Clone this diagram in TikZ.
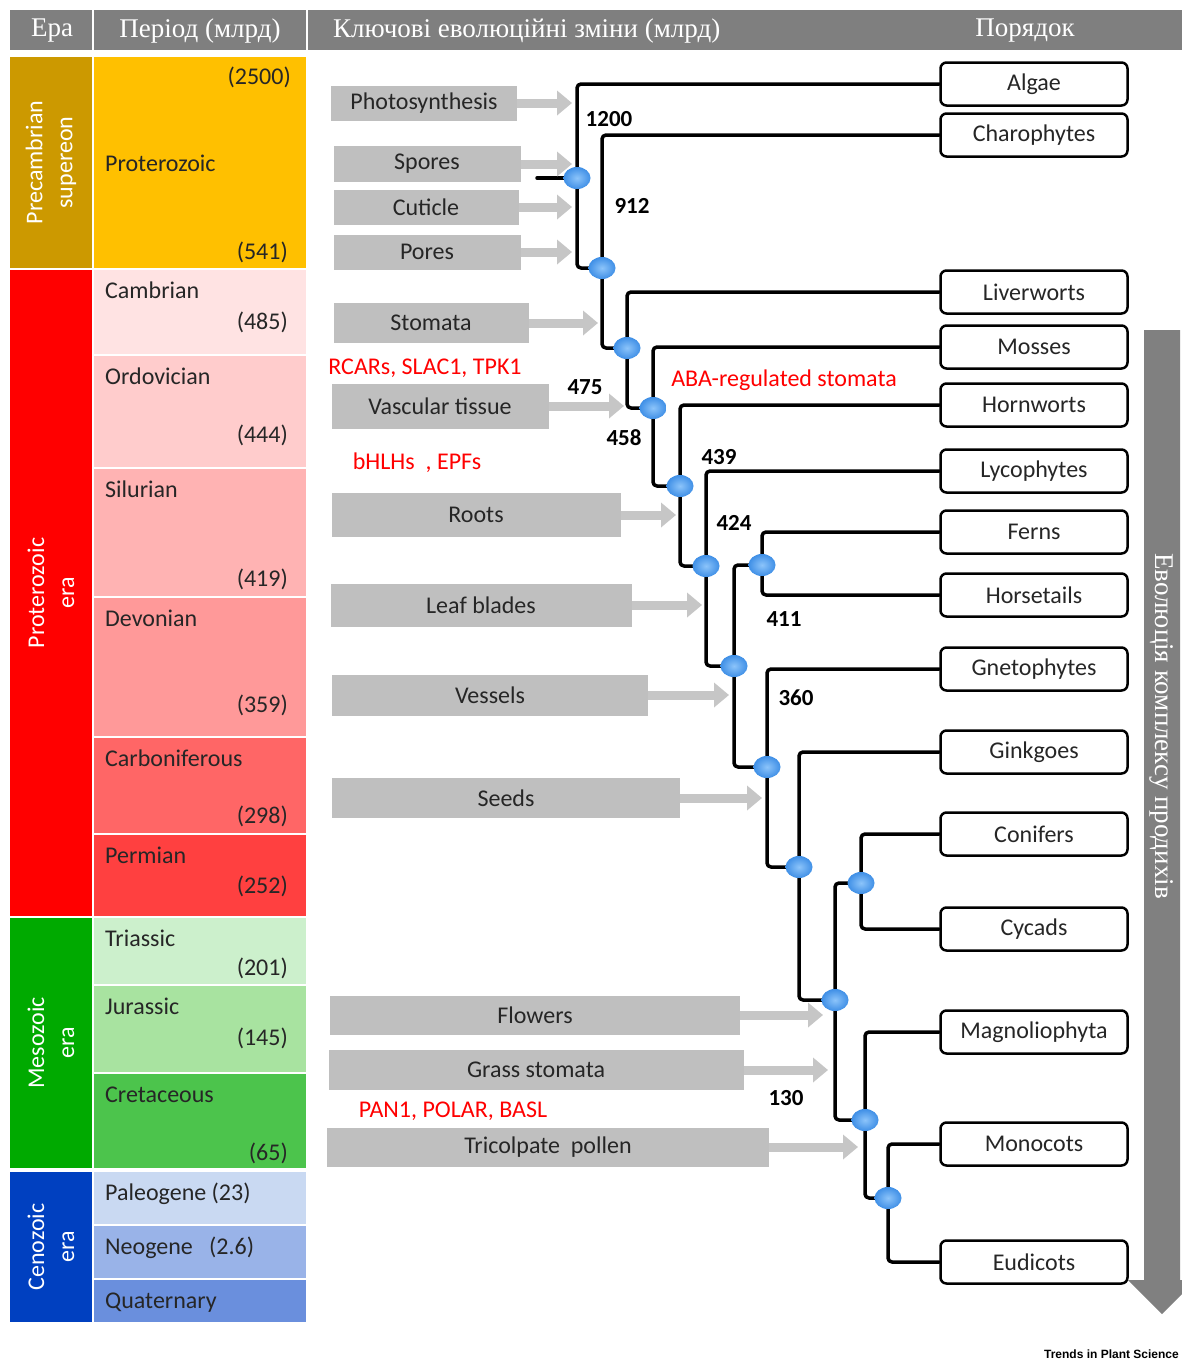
\documentclass[tikz,border=0pt]{standalone}
\usepackage{fontspec}
\setmainfont{Carlito}
\newfontfamily\headfont{Liberation Serif}
\newfontfamily\creditfont{Liberation Sans}
\usetikzlibrary{arrows.meta,shapes.geometric,calc}
\definecolor{headgray}{HTML}{7F7F7F}
\definecolor{boxgray}{HTML}{BFBFBF}
\definecolor{arrgray}{HTML}{C6C6C6}
\definecolor{bargray}{HTML}{808080}
\definecolor{dotblue}{HTML}{3F8FE6}
\definecolor{dotlight}{HTML}{8CC4FA}
\definecolor{erapre}{HTML}{CC9900}
\definecolor{erapro}{HTML}{FF0000}
\definecolor{erameso}{HTML}{00AA00}
\definecolor{eraceno}{HTML}{0040C0}
\definecolor{pprot}{HTML}{FFC000}
\definecolor{pcamb}{HTML}{FFE3E3}
\definecolor{pordo}{HTML}{FFCCCC}
\definecolor{psilu}{HTML}{FFB3B3}
\definecolor{pdevo}{HTML}{FF9999}
\definecolor{pcarb}{HTML}{FF6666}
\definecolor{pperm}{HTML}{FF4040}
\definecolor{ptria}{HTML}{CCF0CC}
\definecolor{pjura}{HTML}{A8E3A0}
\definecolor{pcret}{HTML}{4CC44C}
\definecolor{ppale}{HTML}{C9D9F2}
\definecolor{pneo}{HTML}{99B3E8}
\definecolor{pquat}{HTML}{6A8FDD}
\begin{document}
\begin{tikzpicture}[x=1pt,y=-1pt,line join=round,line cap=round,font=\fontsize{24}{28}\selectfont]
\tikzset{txt/.style={inner sep=0pt,text=black!85},
  htxt/.style={inner sep=0pt,text=white,font=\headfont\fontsize{27}{32}\selectfont},
  eratxt/.style={inner sep=0pt,text=white,rotate=90,align=center,font=\fontsize{24}{30}\selectfont},
  gbox/.style={fill=boxgray,inner sep=0pt,text=black!85},
  gar/.style={draw=arrgray,line width=9pt,line cap=butt,-{Triangle[length=15pt,width=24pt]}},
  leaf/.style={draw,line width=2.5pt,rounded corners=6pt,fill=white,minimum width=187pt,minimum height=43pt,inner sep=0pt,text=black!85},
  jn/.style={inner sep=0pt,minimum size=0pt},
  branch/.style={line width=3.5pt,rounded corners=4pt},
  dot/.style={ellipse,minimum width=27pt,minimum height=22pt,inner sep=0pt,shading=radial,inner color=dotlight,outer color=dotblue},
  myr/.style={inner sep=0pt,text=red},
  age/.style={inner sep=0pt,font=\bfseries\fontsize{23}{27}\selectfont}}
\useasboundingbox (0,0) rectangle (1182,1360);
\clip (0,0) rectangle (1182,1360);
\fill[white] (0,0) rectangle (1182,1360);
% header
\fill[headgray] (10,10) rectangle (1182,50);
\draw[white,line width=1.5pt] (93,10)--(93,50) (307,10)--(307,50);
\node[htxt] at (52,31) {Ера};
\node[htxt] at (200,31) {Період (млрд)};
\node[htxt,anchor=west] at (333,31) {Ключові еволюційні зміни (млрд)};
\node[htxt] at (1025,31) {Порядок};
% eras and periods
\foreach \ya/\yb/\c/\t in {57/268/erapre/{Precambrian\\supereon},270/916/erapro/{Proterozoic\\era},
  918/1168/erameso/{Mesozoic\\era},1172/1322/eraceno/{Cenozoic\\era}}{
  \fill[\c] (10,\ya) rectangle (92,\yb);
  \node[eratxt] at (51,{(\ya+\yb)/2}) {\t};}
\fill[pprot] (94,57) rectangle (306,268);
\node[txt,anchor=base west] at (105,171) {Proterozoic};
\node[txt,anchor=base east] at (291,84) {(2500)};
\node[txt,anchor=base east] at (288,259) {(541)};
\foreach \ya/\yb/\c/\t/\ay/\a in {270/354/pcamb/Cambrian/329/(485),356/467/pordo/Ordovician/442/(444),
  469/596/psilu/Silurian/586/(419),598/736/pdevo/Devonian/712/(359),738/833/pcarb/Carboniferous/823/(298),
  835/916/pperm/Permian/893/(252),918/984/ptria/Triassic/975/(201),986/1072/pjura/Jurassic/1045/(145),
  1074/1168/pcret/Cretaceous/1160/(65),1172/1224/ppale/{Paleogene (23)}/1201/{},
  1226/1278/pneo/{Neogene\ \ \ (2.6)}/1256/{},1280/1322/pquat/Quaternary/1310/{}}{
  \fill[\c] (94,\ya) rectangle (306,\yb);
  \node[txt,anchor=base west] at (105,\ya+28) {\t};
  \node[txt,anchor=base east] at (288,\ay) {\a};}
% key changes
\foreach \n/\cx/\cy/\w/\h/\t in {photo/424/103/186/35/Photosynthesis,spores/427/164/187/36/Spores,
  cuticle/426/207/185/35/Cuticle,pores/427/252/187/35/Pores,stomata/431/323/195/40/Stomata,
  vasc/440/406/217/45/Vascular tissue,roots/476/515/289/44/Roots,leafb/481/605/301/43/Leaf blades,
  vessel/490/695/316/41/Vessels,seeds/506/798/348/40/Seeds,flowers/535/1015/410/39/Flowers,
  grass/536/1070/415/40/Grass stomata,tricol/548/1147/442/39/{Tricolpate\ \ pollen}}
  \node[gbox,minimum width=\w,minimum height=\h] (\n) at (\cx,\cy) {\t};
\node[myr] at (425,368) {RCARs, SLAC1, TPK1};
\node[myr] at (784,380) {ABA-regulated stomata};
\node[myr] at (417,463) {bHLHs\ \ , EPFs};
\node[myr] at (453,1111) {PAN1, POLAR, BASL};
% orders
\foreach \n/\y/\t in {algae/84/Algae,charo/135/Charophytes,liver/292/Liverworts,moss/347/Mosses,
  horn/405/Hornworts,lyco/471/Lycophytes,fern/532/Ferns,horse/595/Horsetails,gneto/669/Gnetophytes,
  ginkgo/752/Ginkgoes,conif/834/Conifers,cycad/929/Cycads,magno/1032/Magnoliophyta,mono/1144/Monocots,
  eudi/1262/Eudicots}
  \node[leaf] (\n) at (1034,\y) {\t};
% tree
\foreach \n/\x/\y in {n1/577/178,n2/602/268,n3/627/348,n4/653/408,n5/680/486,n6/706/566,n7/734/666,
  n8/762/565,n9/767/767,n10/799/867,n11/835/1000,n12/861/883,n13/865/1120,n14/888/1198}
  \node[jn] (\n) at (\x,\y) {};
\coordinate (root) at (537,178);
\draw[branch] (root) -- (n1);
\foreach \p/\a/\b in {n1/algae/n2,n2/charo/n3,n3/liver/n4,n4/moss/n5,n5/horn/n6,n6/lyco/n7,n7/n8/n9,
  n8/fern/horse,n9/gneto/n10,n10/ginkgo/n11,n11/n12/n13,n12/conif/cycad,n13/magno/n14,n14/mono/eudi}
  \draw[branch] (\a.west) -| (\p) |- (\b.west);
\foreach \n/\p/\s in {photo/n1/5,spores/n1/5,cuticle/n1/5,pores/n1/5,stomata/n2/4,vasc/n3/3,roots/n5/4,
  leafb/n6/4,vessel/n7/5,seeds/n9/5,flowers/n11/12,grass/n11/7,tricol/n13/7}
  \draw[gar] (\n.east) -- ($(\n.east -| \p)+(-\s,0)$);
\foreach \p in {n1,n2,n3,n4,n5,n6,n7,n8,n9,n10,n11,n12,n13,n14}
  \node[dot] at (\p) {};
\foreach \x/\y/\t in {609/119/1200,632/206/912,585/387/475,624/438/458,719/457/439,734/523/424,
  784/619/411,796/698/360,786/1098/130}
  \node[age] at (\x,\y) {\t};
% evolution arrow
\fill[bargray] (1144,330) -- (1180,330) -- (1180,1280) -- (1196,1280) -- (1162,1314) -- (1128,1280)
  -- (1144,1280) -- cycle;
\node[htxt,rotate=-90] at (1162,726) {Еволюція комплексу продихів};
\node[anchor=base east,inner sep=0pt,font=\creditfont\bfseries\fontsize{12}{14}\selectfont] at (1179,1358) {Trends in Plant Science};
\end{tikzpicture}
\end{document}
